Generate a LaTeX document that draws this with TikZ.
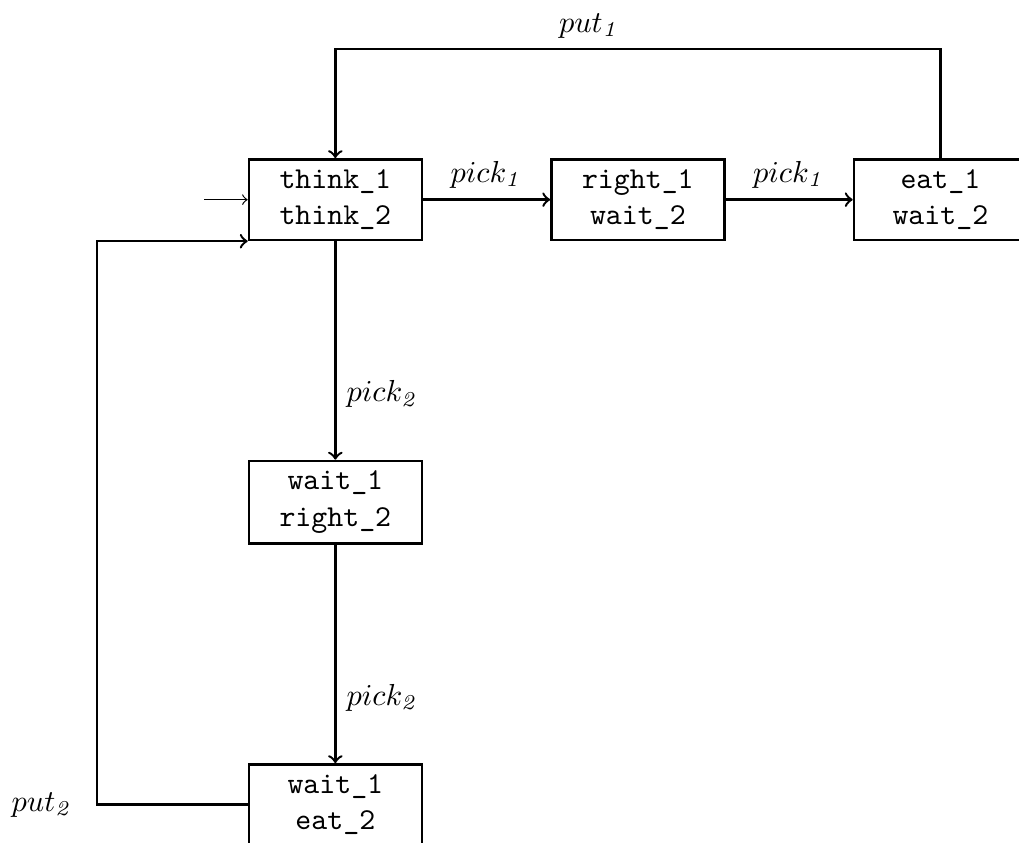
\documentclass[tikz,border=0pt]{standalone}
\usetikzlibrary{positioning}

\tikzset{
  config/.style={draw, align=center, minimum width=2cm, font=\ttfamily},
}

\begin{document}
\begin{tikzpicture}[thick, >=to]
    \useasboundingbox (-3.88,-7.44) rectangle (7.91,2.31);

    % states of the two philosophers
    \node[config] (think) at (0,0) {think\_1\\think\_2};
    \node[config] (right-1) at (3.5,0) {right\_1\\wait\_2};
    \node[config] (eat-1) at (7,0) {eat\_1\\wait\_2};
    \node[config] (right-2) at (0,-3.5) {wait\_1\\right\_2};
    \node[config] (eat-2) at (0,-7) {wait\_1\\eat\_2};

    % initial state
    \coordinate[left=0.5cm of think] (init);
    \draw[->, thin] (init) -- (think);

    % first philosopher picks up both forks
    \draw[->] (think) -- node[above] {$pick_{\mathit{1}}$} (right-1);
    \draw[->] (right-1) -- node[above] {$pick_{\mathit{1}}$} (eat-1);

    % second philosopher picks up both forks
    \draw[->] (think) -- node[pos=0.7, right] {$pick_{\mathit{2}}$} (right-2);
    \draw[->] (right-2) -- node[pos=0.7, right] {$pick_{\mathit{2}}$} (eat-2);

    % putting the forks back
    \coordinate (top) at (7,1.74);
    \coordinate (bend) at (-2.76,-7);
    \draw[->] (eat-1) -- (top) -| node[pos=0.29, above] {$put_{\mathit{1}}$} (think.north);
    \draw[->] (eat-2) -- (bend) node[left=1.5mm] {$put_{\mathit{2}}$} |- (think.south west);
\end{tikzpicture}
\end{document}
